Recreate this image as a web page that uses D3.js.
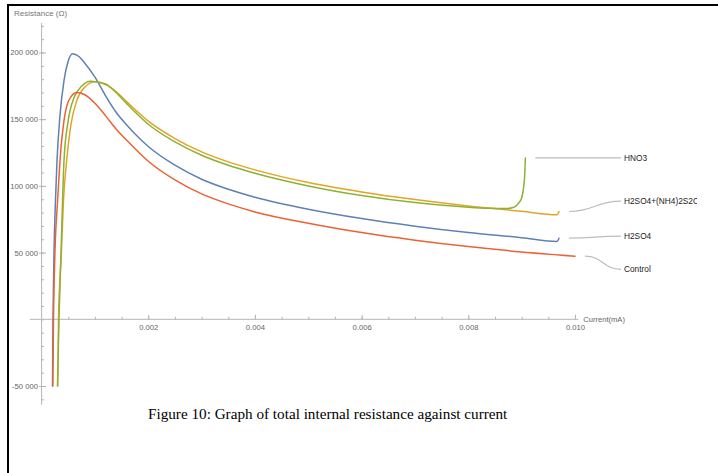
<!DOCTYPE html>
<html>
<head>
<meta charset="utf-8">
<script src="https://cdn.jsdelivr.net/npm/d3@7"></script>
<style>
  html, body { margin: 0; padding: 0; background: #fff; }
  svg { display: block; }
</style>
</head>
<body>
<div class="board"></div>
<script>
// internal resistance vs current, four electrolytes

// current in mA, resistance in ohm
var h2so4I = [0.000204, 0.000214, 0.000232, 0.00026, 0.000289, 0.000345, 0.00042, 0.000495, 0.00058, 0.0007, 0.0008, 0.001, 0.0012, 0.0014, 0.0016, 0.0018, 0.002, 0.0025, 0.003, 0.0035, 0.004, 0.005, 0.006, 0.007, 0.008, 0.009, 0.00966, 0.0097];
var h2so4R = [-50000, 0, 49500, 89000, 119000, 153000, 179000, 193000, 199000, 197000, 192500, 181500, 167500, 155000, 145500, 137000, 129500, 115500, 105000, 97500, 91500, 82500, 75500, 69800, 65000, 61200, 58300, 60800];

var mixI = [0.000302, 0.000317, 0.00037, 0.00041, 0.00047, 0.00055, 0.00066, 0.00081, 0.001, 0.0012, 0.0014, 0.0016, 0.0018, 0.002, 0.0025, 0.003, 0.0035, 0.004, 0.005, 0.006, 0.007, 0.008, 0.009, 0.00966, 0.0097];
var mixR = [-50000, 0, 49500, 89000, 119000, 146000, 164000, 174000, 178000, 176000, 170500, 163000, 155500, 148500, 135500, 125500, 118000, 112000, 102500, 95500, 89800, 85000, 81000, 78300, 80800];

var hno3I = [0.000298, 0.000326, 0.000364, 0.00042, 0.000495, 0.000607, 0.000757, 0.00092, 0.0012, 0.0014, 0.0016, 0.0018, 0.002, 0.0025, 0.003, 0.0035, 0.004, 0.005, 0.006, 0.007, 0.008, 0.0084, 0.0087, 0.00884, 0.00893, 0.009, 0.00904, 0.00906, 0.00907];
var hno3R = [-50000, 0, 49500, 119000, 148000, 166000, 175000, 178500, 176500, 169800, 161500, 153500, 146200, 133000, 123000, 115500, 109500, 100000, 92800, 87500, 84000, 83200, 83000, 83800, 86500, 91000, 100000, 110000, 121000];

var controlI = [0.00021, 0.000223, 0.00025, 0.0003, 0.000345, 0.00042, 0.00051, 0.00066, 0.0008, 0.001, 0.0012, 0.0014, 0.0016, 0.0018, 0.002, 0.0025, 0.003, 0.0035, 0.004, 0.005, 0.006, 0.007, 0.008, 0.009, 0.01];
var controlR = [-50000, 0, 49500, 89000, 119000, 149000, 164000, 170000, 168500, 162000, 152500, 142500, 134000, 126000, 118500, 104500, 94000, 86500, 80500, 72000, 65000, 59300, 54500, 50500, 47300];

// series in plot order, label names and where each label sits (ohm)
var names = ['H2SO4', 'H2SO4+(NH4)2S2O8', 'HNO3', 'Control'];
var colors = ['#5e81b5', '#e1a524', '#8fb032', '#eb6235'];
var labelR = [62300, 88600, 121000, 37500];

var xMajor = [0.002, 0.004, 0.006, 0.008, 0.010];
var xMinor = d3.range(1, 21).map(function (i) { return i * 0.0005; });
var yMajor = [-50000, 50000, 100000, 150000, 200000];
var yMinor = d3.range(-6, 23).map(function (i) { return i * 10000; });

var width = 718;
var height = 473;

var x = d3.scaleLinear().domain([0, 0.01]).range([41.6, 575]);
var y = d3.scaleLinear().domain([-50000, 200000]).range([386, 52.5]);

var locale = d3.formatLocale({ decimal: '.', thousands: ' ', grouping: [3], currency: ['', ''], minus: '-' });

var svg = d3.select('.board')
  .append('svg')
  .attr('width', width)
  .attr('height', height);

svg.append('rect').attr('width', width).attr('height', height).attr('fill', '#fff');

// black frame left and top, like the cropped page
svg.append('rect').attr('x', 7).attr('y', 4).attr('width', width - 7).attr('height', 2).attr('fill', '#000');
svg.append('rect').attr('x', 7).attr('y', 4).attr('width', 2).attr('height', height - 4).attr('fill', '#000');

var axisColor = '#b4b4b4';
var labelColor = '#666';

// x axis
svg.append('line')
  .attr('x1', x(-0.00022)).attr('x2', x(0.01006))
  .attr('y1', y(0)).attr('y2', y(0))
  .attr('stroke', axisColor);

var xMinorG = svg.append('g')
  .attr('transform', 'translate(0,' + y(0) + ')')
  .call(d3.axisBottom(x).tickValues(xMinor).tickFormat('').tickSizeInner(-2.5).tickSizeOuter(0));

var xMajorG = svg.append('g')
  .attr('transform', 'translate(0,' + y(0) + ')')
  .call(d3.axisBottom(x).tickValues(xMajor).tickFormat(d3.format('.3f')).tickSizeInner(-4.5).tickSizeOuter(0).tickPadding(5));

// y axis
svg.append('line')
  .attr('x1', x(0)).attr('x2', x(0))
  .attr('y1', y(222000)).attr('y2', y(-64000))
  .attr('stroke', axisColor);

var yMinorG = svg.append('g')
  .attr('transform', 'translate(' + x(0) + ',0)')
  .call(d3.axisLeft(y).tickValues(yMinor).tickFormat('').tickSizeInner(-2.5).tickSizeOuter(0));

var yMajorG = svg.append('g')
  .attr('transform', 'translate(' + x(0) + ',0)')
  .call(d3.axisLeft(y).tickValues(yMajor).tickFormat(locale.format(',')).tickSizeInner(2.5).tickSizeOuter(0).tickPadding(1));

yMajorG.selectAll('.tick').append('line').attr('x2', 4.5);

[xMinorG, xMajorG, yMinorG, yMajorG].forEach(function (g) {
  g.select('.domain').remove();
  g.selectAll('.tick line').attr('stroke', axisColor);
  g.selectAll('text')
    .attr('fill', labelColor)
    .style('font-family', 'Liberation Sans, Arial, sans-serif')
    .style('font-size', '7.7px');
});

svg.append('text')
  .attr('x', 14).attr('y', 16)
  .attr('fill', '#777')
  .style('font-family', 'Liberation Sans, Arial, sans-serif')
  .style('font-size', '8px')
  .text('Resistance (\u03A9)');

svg.append('text')
  .attr('x', x(0.01006) + 5).attr('y', y(0) + 3)
  .attr('fill', labelColor)
  .style('font-family', 'Liberation Sans, Arial, sans-serif')
  .style('font-size', '7.6px')
  .text('Current(mA)');

// curves
var seriesI = [h2so4I, mixI, hno3I, controlI];
var seriesR = [h2so4R, mixR, hno3R, controlR];

var line = d3.line()
  .x(function (d) { return x(d[0]); })
  .y(function (d) { return y(d[1]); })
  .curve(d3.curveMonotoneX);

var series = names.map(function (name, i) {
  return {
    name: name,
    color: colors[i],
    labelR: labelR[i],
    points: d3.zip(seriesI[i], seriesR[i])
  };
});

svg.append('g').selectAll('path')
  .data(series)
  .enter().append('path')
  .attr('d', function (d) { return line(d.points); })
  .attr('fill', 'none')
  .attr('stroke', function (d) { return d.color; })
  .attr('stroke-width', 1.5)
  .attr('stroke-linejoin', 'round')
  .attr('stroke-linecap', 'round');

// leader lines and labels, clipped like the original
svg.append('clipPath').attr('id', 'labelClip')
  .append('rect').attr('x', 0).attr('y', 0).attr('width', 697).attr('height', height);

var labelX = 621;
var link = d3.linkHorizontal();
var labels = svg.append('g').attr('clip-path', 'url(#labelClip)');

labels.selectAll('path')
  .data(series)
  .enter().append('path')
  .attr('d', function (d) {
    var last = d.points[d.points.length - 1];
    return link({ source: [x(last[0]) + 10, y(last[1])], target: [labelX, y(d.labelR)] });
  })
  .attr('fill', 'none')
  .attr('stroke', '#bdbdbd')
  .attr('stroke-width', 1.2);

labels.selectAll('text')
  .data(series)
  .enter().append('text')
  .attr('x', labelX + 3)
  .attr('y', function (d) { return y(d.labelR); })
  .attr('dy', '0.35em')
  .attr('fill', '#222')
  .style('font-family', 'Liberation Sans, Arial, sans-serif')
  .style('font-size', '8.3px')
  .text(function (d) { return d.name; });

svg.append('text')
  .attr('x', 148).attr('y', 419)
  .attr('fill', '#000')
  .style('font-family', 'Liberation Serif, Times New Roman, serif')
  .style('font-size', '15.2px')
  .text('Figure 10: Graph of total internal resistance against current');
</script>
</body>
</html>
